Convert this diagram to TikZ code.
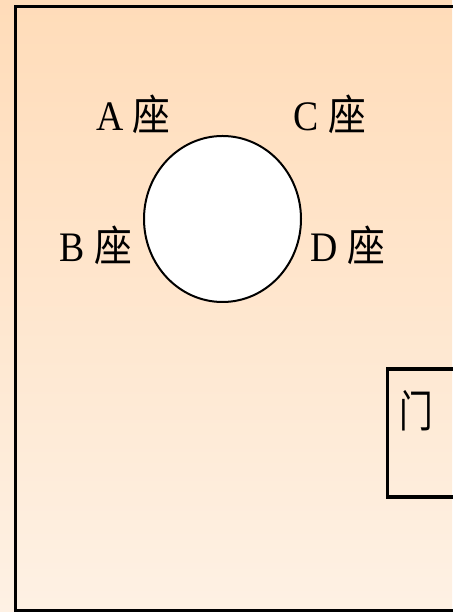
\documentclass[tikz,border=0pt]{standalone}
\usepackage{fontspec}
\usetikzlibrary{shapes.geometric}
\setmainfont{Liberation Serif}
\newfontfamily\cjk{Noto Sans CJK SC}
\definecolor{bgtop}{RGB}{255,220,185}
\definecolor{bgbot}{RGB}{254,241,228}
\begin{document}
\begin{tikzpicture}[x=1pt,y=1pt,
  seat/.style={inner sep=0pt,font=\fontsize{42}{42}\selectfont},
  frameline/.style={draw=black,line width=3.4pt}]
\useasboundingbox (0,0) rectangle (452,612);
\shade[top color=bgtop,bottom color=bgbot] (0,0) rectangle (452,612);
% outer frame (right side runs off the picture)
\draw[frameline] (470,605.5) -- (15.5,605.5) -- (15.5,1) -- (470,1);
% table
\node[draw=black,line width=2pt,fill=white,ellipse,minimum width=157pt,minimum height=166pt,inner sep=0pt] (table) at (222.5,393) {};
% seats
\node[seat] (A) at (133.5,498) {\scalebox{0.9}[1]{A \cjk 座}};
\node[seat] (C) at (330,498) {\scalebox{0.9}[1]{C \cjk 座}};
\node[seat] (B) at (96,367) {\scalebox{0.9}[1]{B \cjk 座}};
\node[seat] (D) at (348,367) {\scalebox{0.9}[1]{D \cjk 座}};
% door
\draw[frameline] (470,243) -- (387.5,243) -- (387.5,115) -- (470,115);
\node[seat] (door) at (416,201) {\scalebox{0.8}[1.05]{\cjk 门}};
\end{tikzpicture}
\end{document}
